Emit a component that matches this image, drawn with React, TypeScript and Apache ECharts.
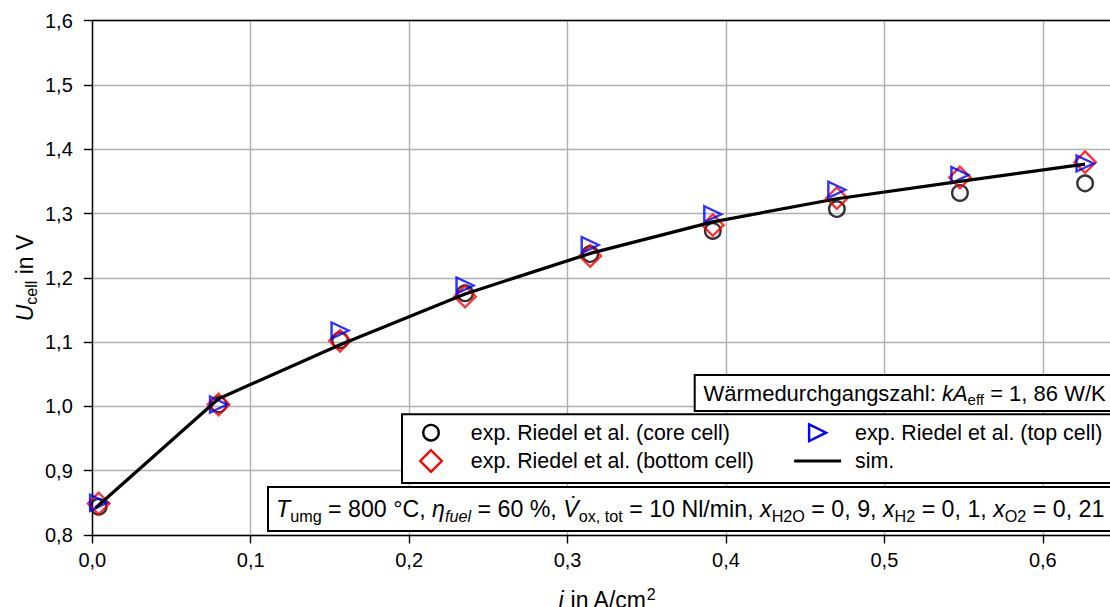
import React, { useEffect, useRef } from 'react';
import * as echarts from 'echarts';

// ---- data ----
const jValues = [0.004, 0.0797, 0.1564, 0.2353, 0.3143, 0.3917, 0.47, 0.5477, 0.6267];
const coreCell = [0.844, 1.003, 1.103, 1.176, 1.237, 1.273, 1.307, 1.332, 1.347];
const bottomCell = [0.849, 1.003, 1.102, 1.171, 1.234, 1.282, 1.324, 1.356, 1.38];
const topCell = [0.85, 1.003, 1.118, 1.188, 1.251, 1.299, 1.337, 1.36, 1.378];
const simJ = [0.002, 0.0797, 0.1564, 0.2353, 0.3143, 0.3917, 0.47, 0.5477, 0.6267];
const simU = [0.842, 1.012, 1.096, 1.175, 1.238, 1.287, 1.323, 1.35, 1.377];
const seriesNames = [
  'exp. Riedel et al. (core cell)',
  'exp. Riedel et al. (bottom cell)',
  'exp. Riedel et al. (top cell)',
  'sim.',
];
const xRange = [0, 0.65];
const yRange = [0.8, 1.6];
const tickStep = 0.1;

const FONT = "'Liberation Sans', Arial, Helvetica, sans-serif";
const fmt = (v: number) => v.toFixed(1).replace('.', ',');

const TRI = 'path://M0,0 L20,10 L0,20 Z';
const DIA = 'path://M10,0 L20,10 L10,20 L0,10 Z';
const MARKER_LW = 2.4;

function buildOption(): any {
  const axisLineStyle = { color: '#000', width: 1.4 };
  const legendFont = 21.4;
  const row1 = 432.7;
  const row2 = 461;
  const col1 = 431;
  const col2 = 817.6;
  const txt1 = 470.8;
  const txt2 = 855;
  const legendText = (x: number, y: number, text: string) => ({
    type: 'text',
    z: 60,
    x,
    y,
    style: {
      text,
      fontSize: legendFont,
      fontFamily: FONT,
      fill: '#000',
      align: 'left',
      verticalAlign: 'middle',
    },
  });
  return {
    animation: false,
    backgroundColor: '#fff',
    grid: { left: 92.3, right: 8, top: 20.7, bottom: 72, containLabel: false },
    xAxis: [
      {
        type: 'value',
        min: xRange[0],
        max: xRange[1],
        interval: tickStep,
        position: 'bottom',
        axisLine: { show: true, onZero: false, lineStyle: axisLineStyle },
        axisTick: { show: true, length: 8.5, lineStyle: axisLineStyle },
        axisLabel: {
          show: true,
          margin: 15,
          fontSize: 20,
          fontFamily: FONT,
          color: '#000',
          formatter: fmt,
          showMaxLabel: false,
        },
        splitLine: { show: true, showMaxLine: false, lineStyle: { color: '#b0b0b0', width: 1.4 } },
      },
      {
        type: 'value',
        min: xRange[0],
        max: xRange[1],
        position: 'top',
        axisLine: { show: true, onZero: false, lineStyle: axisLineStyle },
        axisTick: { show: false },
        axisLabel: { show: false },
        splitLine: { show: false },
      },
    ],
    yAxis: {
      type: 'value',
      min: yRange[0],
      max: yRange[1],
      interval: tickStep,
      axisLine: { show: true, onZero: false, lineStyle: axisLineStyle },
      axisTick: { show: true, length: 8.5, lineStyle: axisLineStyle },
      axisLabel: { margin: 19.5, fontSize: 20, fontFamily: FONT, color: '#000', formatter: fmt },
      splitLine: { show: true, lineStyle: { color: '#b0b0b0', width: 1.4 } },
    },
    series: [
      {
        name: seriesNames[0],
        type: 'scatter',
        data: jValues.map((j, i) => [j, coreCell[i]]),
        symbol: 'circle',
        symbolSize: 15.5,
        itemStyle: { color: 'rgba(0,0,0,0)', borderColor: '#000', borderWidth: MARKER_LW },
        z: 3,
      },
      {
        name: seriesNames[1],
        type: 'scatter',
        data: jValues.map((j, i) => [j, bottomCell[i]]),
        symbol: DIA,
        symbolSize: 21.5,
        itemStyle: { color: 'rgba(0,0,0,0)', borderColor: '#ff0000', borderWidth: MARKER_LW },
        z: 4,
      },
      {
        name: seriesNames[2],
        type: 'scatter',
        data: jValues.map((j, i) => [j, topCell[i]]),
        symbol: TRI,
        symbolSize: [17, 16],
        itemStyle: { color: 'rgba(0,0,0,0)', borderColor: '#0000ff', borderWidth: MARKER_LW },
        z: 5,
      },
      {
        name: seriesNames[3],
        type: 'line',
        data: simJ.map((j, i) => [j, simU[i]]),
        symbol: 'none',
        lineStyle: { color: '#000', width: 3.2 },
        itemStyle: { color: '#000' },
        z: 6,
      },
    ],
    graphic: {
      elements: [
        {
          type: 'rect',
          z: 50,
          shape: { x: 694.7, y: 375, width: 422, height: 36 },
          style: { fill: '#fff', stroke: '#000', lineWidth: 2 },
        },
        {
          type: 'rect',
          z: 50,
          shape: { x: 402, y: 414.3, width: 715, height: 68.7 },
          style: { fill: '#fff', stroke: '#000', lineWidth: 2 },
        },
        {
          type: 'rect',
          z: 50,
          shape: { x: 268, y: 487, width: 849, height: 44 },
          style: { fill: '#fff', stroke: '#000', lineWidth: 2 },
        },
        // legend entries
        {
          type: 'circle',
          z: 60,
          shape: { cx: col1, cy: row1, r: 7.75 },
          style: { fill: 'none', stroke: '#000', lineWidth: MARKER_LW },
        },
        legendText(txt1, row1, seriesNames[0]),
        {
          type: 'polygon',
          z: 60,
          shape: {
            points: [
              [col1, row2 - 10.75],
              [col1 + 10.75, row2],
              [col1, row2 + 10.75],
              [col1 - 10.75, row2],
            ],
          },
          style: { fill: 'none', stroke: '#ff0000', lineWidth: MARKER_LW },
        },
        legendText(txt1, row2, seriesNames[1]),
        {
          type: 'polygon',
          z: 60,
          shape: {
            points: [
              [col2 - 8.5, row1 - 8.3],
              [col2 + 8.5, row1],
              [col2 - 8.5, row1 + 8.3],
            ],
          },
          style: { fill: 'none', stroke: '#0000ff', lineWidth: MARKER_LW },
        },
        legendText(txt2, row1, seriesNames[2]),
        {
          type: 'line',
          z: 60,
          shape: { x1: col2 - 23.5, y1: row2, x2: col2 + 23.5, y2: row2 },
          style: { stroke: '#000', lineWidth: 3.2 },
        },
        legendText(txt2, row2, seriesNames[3]),
        // annotation texts
        {
          type: 'text',
          z: 60,
          x: 703.5,
          y: 393,
          style: {
            text: '{n|Wärmedurchgangszahl: }{i|kA}{sub|eff}{n| = 1, 86 W/K}',
            verticalAlign: 'middle',
            align: 'left',
            fill: '#000',
            rich: {
              n: { fontSize: 22, fontFamily: FONT, lineHeight: 28 },
              i: { fontSize: 22, fontFamily: FONT, fontStyle: 'italic', lineHeight: 28 },
              sub: { fontSize: 15, fontFamily: FONT, lineHeight: 15, verticalAlign: 'bottom' },
            },
          },
        },
        {
          type: 'text',
          z: 60,
          x: 276,
          y: 509,
          style: {
            text:
              '{i|T}{sub|umg}{n| = 800 °C, }{i|η}{subi|fuel}{n| = 60 %, }{i|V\u0307}{sub|ox, tot}{n| = 10 Nl/min, }{i|x}{sub|H2O}{n| = 0, 9, }{i|x}{sub|H2}{n| = 0, 1, }{i|x}{sub|O2}{n| = 0, 21}',
            verticalAlign: 'middle',
            align: 'left',
            fill: '#000',
            rich: {
              n: { fontSize: 23.2, fontFamily: FONT, lineHeight: 30 },
              i: { fontSize: 23.2, fontFamily: FONT, fontStyle: 'italic', lineHeight: 30 },
              sub: { fontSize: 16.2, fontFamily: FONT, lineHeight: 16, verticalAlign: 'bottom' },
              subi: { fontSize: 16.2, fontFamily: FONT, fontStyle: 'italic', lineHeight: 16, verticalAlign: 'bottom' },
            },
          },
        },
        {
          type: 'text',
          z: 60,
          x: 607,
          y: 600,
          style: {
            text: '{i|j}{n| in A/cm}{sup|2}',
            align: 'center',
            verticalAlign: 'middle',
            fill: '#000',
            rich: {
              n: { fontSize: 23, fontFamily: FONT, lineHeight: 28 },
              i: { fontSize: 23, fontFamily: FONT, fontStyle: 'italic', lineHeight: 28 },
              sup: { fontSize: 16, fontFamily: FONT, lineHeight: 16, verticalAlign: 'top' },
            },
          },
        },
        {
          type: 'text',
          z: 60,
          x: 25,
          y: 278,
          rotation: Math.PI / 2,
          style: {
            text: '{i|U}{sub|cell}{n| in V}',
            align: 'center',
            verticalAlign: 'middle',
            fill: '#000',
            rich: {
              n: { fontSize: 23, fontFamily: FONT, lineHeight: 28 },
              i: { fontSize: 23, fontFamily: FONT, fontStyle: 'italic', lineHeight: 28 },
              sub: { fontSize: 16, fontFamily: FONT, lineHeight: 16, verticalAlign: 'bottom' },
            },
          },
        },
      ],
    },
  };
}

export default function App() {
  const ref = useRef<HTMLDivElement>(null);
  useEffect(() => {
    if (!ref.current) return;
    const chart = echarts.init(ref.current, undefined, { renderer: 'svg' });
    chart.setOption(buildOption());
    return () => chart.dispose();
  }, []);
  return (
    <div
      style={{
        position: 'fixed',
        left: 0,
        top: 0,
        width: 1110,
        height: 607,
        overflow: 'hidden',
        background: '#fff',
      }}
    >
      <div ref={ref} style={{ width: 1130, height: 607 }} />
    </div>
  );
}
